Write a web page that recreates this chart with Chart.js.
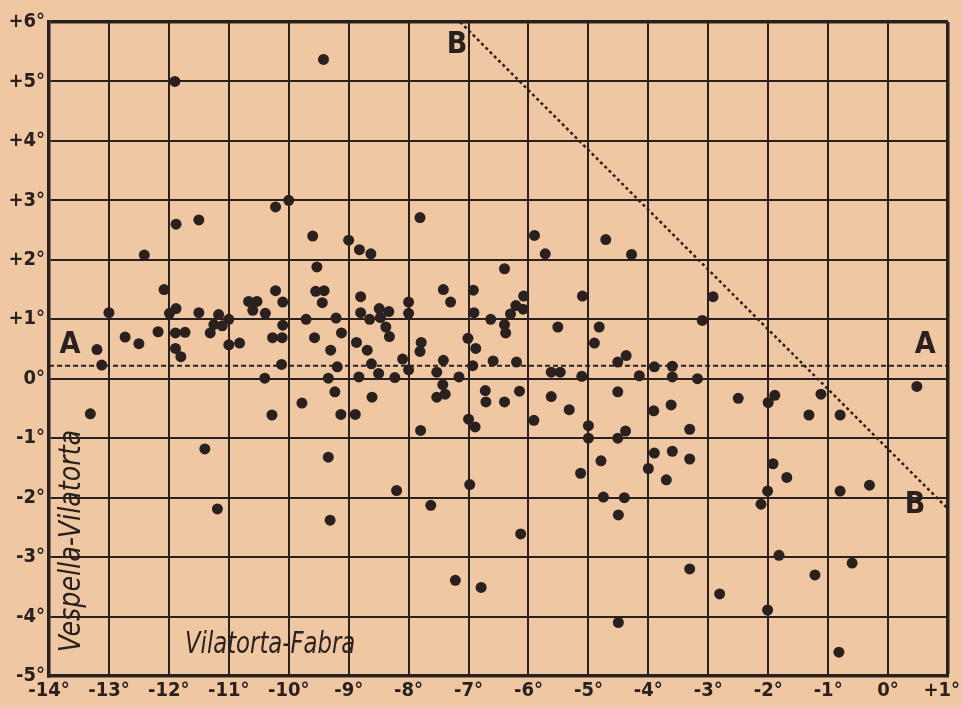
<!DOCTYPE html>
<html><head><meta charset="utf-8">
<script src="https://cdn.jsdelivr.net/npm/chart.js@4.4.1/dist/chart.umd.min.js"></script>
<style>
html,body{margin:0;padding:0;background:#efc8a3;}
canvas{display:block;}
</style></head><body>
<canvas id="c" width="962" height="707"></canvas>
<script>
// x: Vilatorta-Fabra, y: Vespella-Vilatorta (degrees)
const vilatortaFabra = [
-11.9,-9.42,-10.0,-10.22,-7.81,-11.5,-11.88,-9.6,-5.9,-9.0,-4.71,-8.82,-8.63,-5.72,-4.28,-12.41,-9.53,-6.4,
-12.08,-9.55,-9.41,-10.22,-7.42,-6.92,-2.92,-8.8,-6.08,-5.1,-9.44,-10.67,-10.53,-10.1,-7.3,-8.0,-6.21,
-11.88,-8.49,-10.6,-6.09,-13.0,-11.99,-11.5,-10.39,-8.8,-8.33,-8.0,-6.91,-6.3,-11.17,-11.0,-9.71,-9.21,
-8.65,-8.47,-6.63,-3.1,-11.25,-11.11,-10.1,-8.38,-6.4,-5.51,-4.82,-12.18,-11.89,-11.73,-11.31,-9.12,-6.38,
-12.73,-10.27,-10.11,-9.57,-8.32,-7.01,-12.5,-11.0,-10.82,-8.87,-7.79,-4.9,-13.2,-11.89,-9.3,-8.69,-7.81,
-6.88,-11.8,-4.37,-8.1,-7.42,-6.59,-6.2,-4.51,-13.12,-10.12,-8.62,-6.93,-3.9,-3.6,-9.19,-8.0,-7.53,-5.62,
-5.47,-8.5,-4.15,-5.11,-3.6,-10.4,-9.34,-8.83,-8.23,-7.16,-3.18,-7.43,0.48,-9.23,-6.72,-6.15,-4.51,-7.39,
-1.89,-1.12,-8.61,-7.53,-5.62,-2.5,-9.78,-6.71,-6.4,-2.0,-3.62,-5.32,-3.91,-13.31,-10.28,-9.13,-8.89,-1.32,
-0.8,-7.0,-5.91,-6.89,-7.8,-5.0,-3.31,-4.38,-5.0,-4.51,-11.4,-3.6,-3.9,-9.34,-3.31,-4.79,-1.92,-4.0,-5.13,
-1.69,-3.7,-6.98,-0.31,-8.2,-2.01,-0.8,-4.75,-4.4,-2.12,-7.63,-11.19,-4.5,-9.31,-6.13,-1.82,-0.6,-3.31,
-1.22,-7.22,-6.79,-2.81,-2.01,-4.5,-0.82
];
const vespellaVilatorta = [
5.0,5.37,3.0,2.89,2.71,2.67,2.6,2.4,2.41,2.33,2.34,2.17,2.1,2.1,2.09,2.08,1.88,1.85,
1.5,1.47,1.48,1.48,1.5,1.49,1.38,1.38,1.39,1.39,1.28,1.3,1.3,1.29,1.29,1.29,1.23,
1.18,1.18,1.15,1.17,1.11,1.1,1.11,1.1,1.11,1.13,1.1,1.11,1.09,1.08,1.0,1.0,1.02,
1.0,1.03,1.0,0.98,0.91,0.89,0.9,0.87,0.91,0.87,0.87,0.79,0.77,0.78,0.77,0.77,0.77,
0.7,0.69,0.69,0.69,0.71,0.68,0.59,0.57,0.6,0.61,0.61,0.6,0.49,0.51,0.48,0.48,0.46,
0.51,0.37,0.39,0.33,0.31,0.3,0.28,0.28,0.23,0.24,0.25,0.22,0.2,0.21,0.2,0.15,0.11,0.11,
0.11,0.09,0.05,0.04,0.03,0.01,0.01,0.03,0.02,0.03,0.0,-0.1,-0.13,-0.22,-0.2,-0.21,-0.22,-0.26,
-0.28,-0.26,-0.31,-0.31,-0.3,-0.33,-0.41,-0.39,-0.39,-0.4,-0.44,-0.52,-0.54,-0.59,-0.61,-0.6,-0.6,-0.61,
-0.61,-0.68,-0.7,-0.81,-0.87,-0.79,-0.85,-0.88,-1.0,-1.0,-1.18,-1.22,-1.25,-1.32,-1.35,-1.38,-1.43,-1.51,-1.59,
-1.66,-1.7,-1.78,-1.79,-1.88,-1.89,-1.89,-1.99,-2.0,-2.11,-2.13,-2.19,-2.29,-2.38,-2.61,-2.97,-3.1,-3.2,
-3.3,-3.39,-3.51,-3.62,-3.89,-4.1,-4.6
];
const lineALevel = 0.22;
const lineBX = [-7.14, 1.0];
const lineBY = [6.0, -2.19];
const xTickValues = [-14,-13,-12,-11,-10,-9,-8,-7,-6,-5,-4,-3,-2,-1,0,1];
const xTickLabels = ['-14°','-13°','-12°','-11°','-10°','-9°','-8°','-7°','-6°','-5°','-4°','-3°','-2°','-1°','0°','+1°'];
const yTickValues = [6,5,4,3,2,1,0,-1,-2,-3,-4,-5];
const yTickLabels = ['+6°','+5°','+4°','+3°','+2°','+1°','0°','-1°','-2°','-3°','-4°','-5°'];
const xTitle = 'Vilatorta-Fabra';
const yTitle = 'Vespella-Vilatorta';

const INK = '#2a211f';
const points = vilatortaFabra.map((x, i) => ({x, y: vespellaVilatorta[i]}));

const labelPlugin = {
  id: 'labels',
  afterDatasetsDraw(chart) {
    const {ctx, scales:{x, y}} = chart;
    ctx.save();
    ctx.fillStyle = INK;
    ctx.textAlign = 'center';
    ctx.textBaseline = 'middle';
    ctx.font = "bold 30px 'DejaVu Sans Condensed', 'DejaVu Sans', sans-serif";
    const letters = [['A',-13.65,0.57],['A',0.62,0.57],['B',-7.19,5.61],['B',0.45,-2.12]];
    letters.forEach(([t,vx,vy]) => ctx.fillText(t, x.getPixelForValue(vx), y.getPixelForValue(vy)));
    const fitText = (text, cx, cy, width, rot) => {
      ctx.save();
      ctx.translate(cx, cy);
      ctx.rotate(rot);
      ctx.font = "italic 30px 'DejaVu Sans Condensed', 'DejaVu Sans', sans-serif";
      const w = ctx.measureText(text).width;
      ctx.scale(width / w, 1);
      ctx.fillText(text, 0, 0);
      ctx.restore();
    };
    const x1 = x.getPixelForValue(-11.73), x2 = x.getPixelForValue(-8.89);
    fitText(xTitle, (x1+x2)/2, y.getPixelForValue(-4.48), x2-x1, 0);
    const ya = y.getPixelForValue(-4.6), yb = y.getPixelForValue(-0.86);
    fitText(yTitle, x.getPixelForValue(-13.62), (ya+yb)/2, ya-yb, -Math.PI/2);
    ctx.restore();
  }
};

const fontFam = "'DejaVu Sans Condensed', 'DejaVu Sans', sans-serif";
new Chart(document.getElementById('c'), {
  type: 'scatter',
  data: {
    datasets: [
      {
        type: 'line',
        data: [{x: xTickValues[0], y: lineALevel}, {x: xTickValues[xTickValues.length-1], y: lineALevel}],
        borderColor: INK, borderWidth: 2, borderDash: [5, 3], pointRadius: 0, fill: false
      },
      {
        type: 'line',
        data: lineBX.map((x, i) => ({x, y: lineBY[i]})),
        borderColor: INK, borderWidth: 2.5, borderDash: [3, 3], pointRadius: 0, fill: false
      },
      {
        data: points,
        pointRadius: 5.5,
        pointBackgroundColor: INK,
        pointBorderWidth: 0,
        pointHoverRadius: 5.5
      }
    ]
  },
  options: {
    responsive: false,
    animation: false,
    events: [],
    layout: {padding: {left: 0, top: 22, right: 14, bottom: 0}},
    plugins: {legend: {display: false}, tooltip: {enabled: false}},
    scales: {
      x: {
        type: 'linear', min: -14, max: 1,
        afterFit: s => { s.height = 31; s.paddingLeft = 0; s.paddingRight = 0; },
        afterBuildTicks: s => { s.ticks = xTickValues.map(v => ({value: v})); },
        ticks: {
          autoSkip: false, maxRotation: 0, padding: 3, color: INK,
          font: {family: fontFam, size: 20, weight: 'bold'},
          callback: v => {
            const i = xTickValues.indexOf(Math.round(v));
            return i === xTickValues.length - 1 ? xTickLabels[i] + '\u2007' : xTickLabels[i];
          }
        },
        grid: {color: INK, lineWidth: c => (c.tick && c.tick.value === 1) ? 3.5 : 2, drawTicks: false},
        border: {display: true, color: INK, width: 3.5}
      },
      y: {
        type: 'linear', min: -5, max: 6,
        afterFit: s => { s.width = 49; s.paddingTop = 0; s.paddingBottom = 0; },
        afterBuildTicks: s => { s.ticks = yTickValues.map(v => ({value: v})); },
        ticks: {
          autoSkip: false, padding: 4, color: INK,
          font: {family: fontFam, size: 20, weight: 'bold'},
          callback: v => yTickLabels[yTickValues.indexOf(Math.round(v))]
        },
        grid: {color: INK, lineWidth: c => (c.tick && c.tick.value === 6) ? 3.5 : 2, drawTicks: false},
        border: {display: true, color: INK, width: 3.5}
      }
    }
  },
  plugins: [labelPlugin]
});
</script>
</body></html>
